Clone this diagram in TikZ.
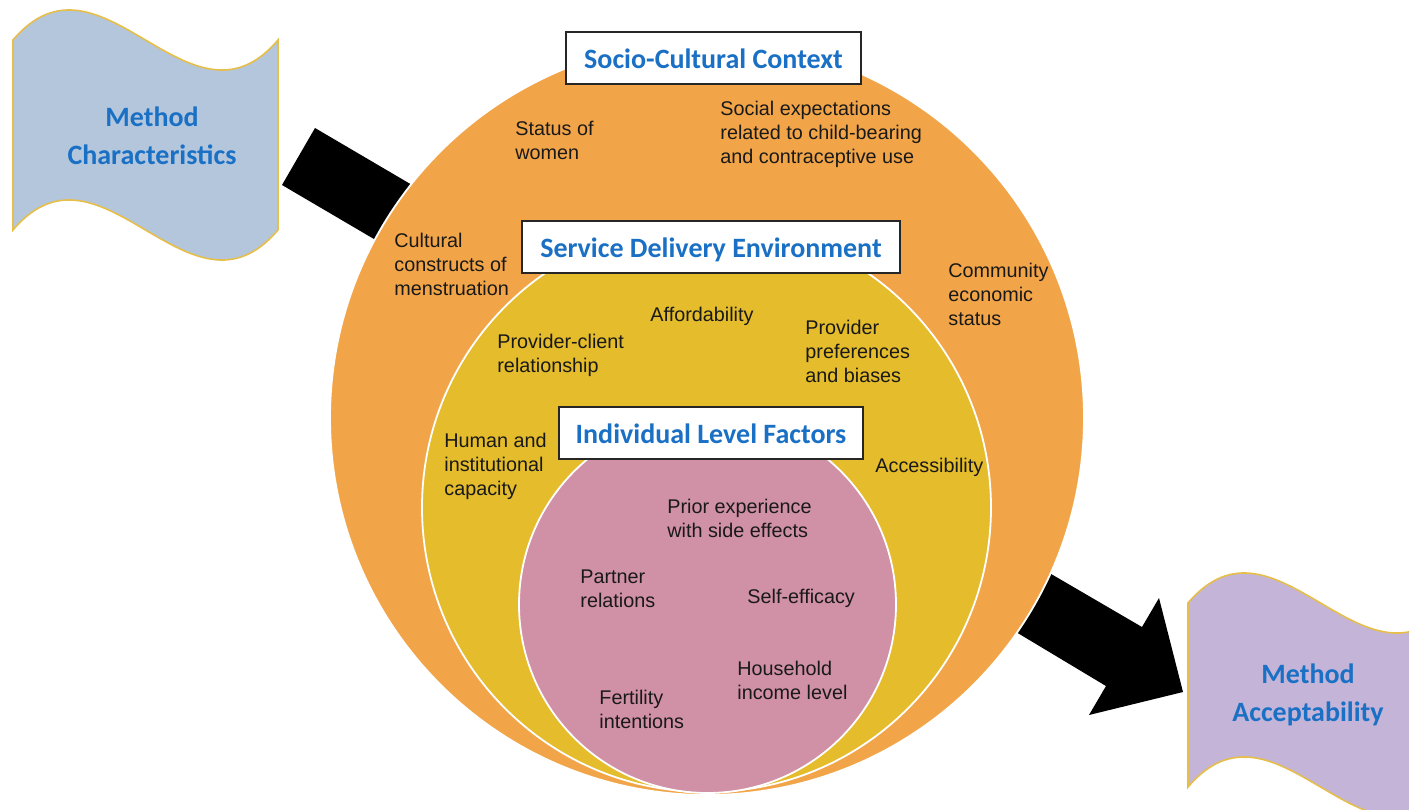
\documentclass[tikz,border=0pt]{standalone}
\usepackage{fontspec}
\setmainfont{Liberation Sans}
\newfontfamily\titlefont{Carlito}
\definecolor{orangeC}{HTML}{F2A548}
\definecolor{yellowC}{HTML}{E4BC2C}
\definecolor{pinkC}{HTML}{D090A6}
\definecolor{blueW}{HTML}{B3C6DC}
\definecolor{lavW}{HTML}{C4B4D8}
\definecolor{goldB}{HTML}{E6BE4A}
\definecolor{titleblue}{HTML}{1A70C4}
\begin{document}
\begin{tikzpicture}[x=0.5pt,y=-0.5pt,
  lbl/.style={anchor=west, align=left, inner sep=0pt, font=\fontsize{9.9}{12}\selectfont, text=black!90},
  titlebox/.style={draw=black!85, line width=0.8pt, fill=white, inner sep=0pt, minimum height=26pt,
     text height=12.5pt, text depth=2pt,
     font=\titlefont\bfseries\fontsize{14}{17}\selectfont, text=titleblue},
  wavetext/.style={align=center, inner sep=0pt, font=\titlefont\bfseries\fontsize{14}{19}\selectfont, text=titleblue},
  wave/.style={draw=goldB, line width=0.8pt},
  ring/.style={circle, draw=white, line width=0.9pt, inner sep=0pt}]
\clip (0,0) rectangle (1409,809);
\useasboundingbox (0,0) rectangle (1409,809);
% arrows (behind circles)
\coordinate (la1) at (315,128); \coordinate (la2) at (487,229);
\coordinate (la3) at (454,286); \coordinate (la4) at (282,185);
\fill[black] (la1) -- (la2) -- (la3) -- (la4) -- cycle;
\coordinate (ra1) at (998,543); \coordinate (ra2) at (1142,627);
\coordinate (ra3) at (1159,598); \coordinate (ra4) at (1183,692);
\coordinate (ra5) at (1089,715); \coordinate (ra6) at (1106,686);
\coordinate (ra7) at (966,602);
\fill[black] (ra1) -- (ra2) -- (ra3) -- (ra4) -- (ra5) -- (ra6) -- (ra7) -- cycle;
% waves
\fill[blueW, wave] (13,40) .. controls (101.3,-64) and (189.7,144) .. (278,40)
  -- (278,230) .. controls (189.7,334) and (101.3,126) .. (13,230) -- cycle;
\fill[lavW, wave] (1188,603) .. controls (1276.3,499) and (1364.7,707) .. (1453,603)
  -- (1453,787) .. controls (1364.7,891) and (1276.3,683) .. (1188,787) -- cycle;
\node[wavetext] (mc) at (152,136) {Method\\Characteristics};
\node[wavetext] (ma) at (1308,695) {Method\\Acceptability};
% circles
\node[ring, fill=orangeC, minimum size=377pt] (outer) at (707,418) {};
\node[ring, fill=yellowC, minimum size=284.5pt] (middle) at (706.5,507.5) {};
\node[ring, fill=pinkC, minimum size=188.5pt] (inner) at (707.5,604.5) {};
% title boxes
\node[titlebox, minimum width=147.5pt] (t1) at (713.5,58) {Socio-Cultural Context};
\node[titlebox, minimum width=189pt] (t2) at (711,247) {Service Delivery Environment};
\node[titlebox, minimum width=152pt] (t3) at (711,433) {Individual Level Factors};
% labels
\node[lbl] (l1) at (515,140) {Status of\\women};
\node[lbl] (l2) at (720,134) {Social expectations\\related to child-bearing\\and contraceptive use};
\node[lbl] (l3) at (394,264) {Cultural\\constructs of\\menstruation};
\node[lbl] (l4) at (948,294) {Community\\economic\\status};
\node[lbl] (l5) at (650,316) {Affordability};
\node[lbl] (l6) at (497,355.5) {Provider-client\\relationship};
\node[lbl] (l7) at (805,351) {Provider\\preferences\\and biases};
\node[lbl] (l8) at (444,466.5) {Human and\\institutional\\capacity};
\node[lbl] (l9) at (875,467) {Accessibility};
\node[lbl] (l10) at (667,518.5) {Prior experience\\with side effects};
\node[lbl] (l11) at (580,588.5) {Partner\\relations};
\node[lbl] (l12) at (747,598) {Self-efficacy};
\node[lbl] (l13) at (737,680) {Household\\income level};
\node[lbl] (l14) at (599,709) {Fertility\\intentions};
\end{tikzpicture}
\end{document}
